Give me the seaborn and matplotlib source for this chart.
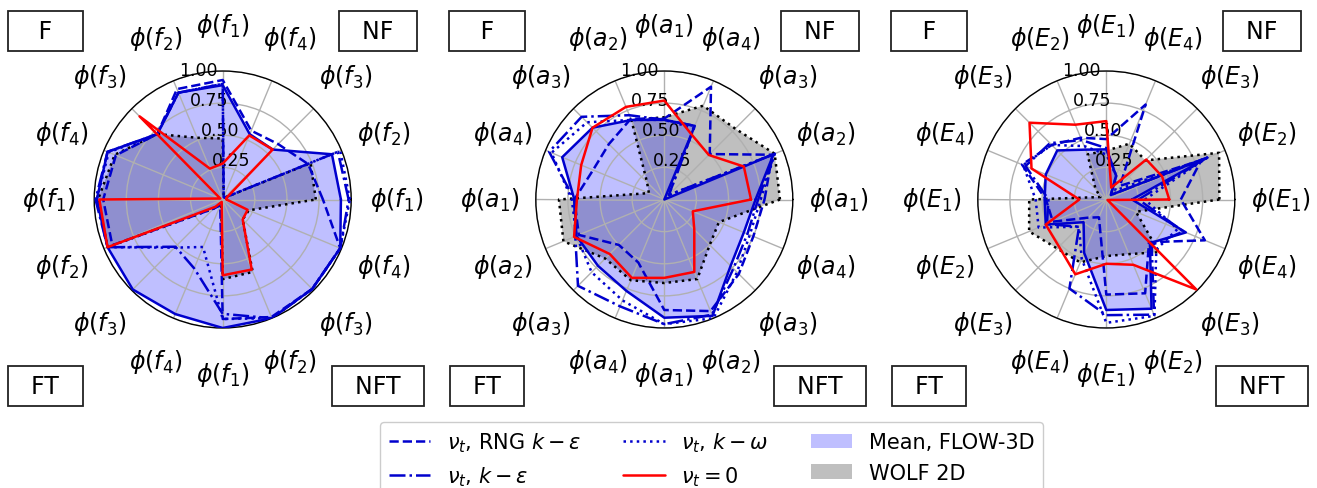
import numpy as np
import matplotlib
matplotlib.use("Agg")
import matplotlib.pyplot as plt
from matplotlib.lines import Line2D
from matplotlib.patches import Patch
import seaborn as sns

sns.set_theme(context="notebook", style="white")
plt.rcParams["font.family"] = ["DejaVu Sans"]
plt.rcParams["mathtext.fontset"] = "dejavusans"
for key in ("text.color", "axes.labelcolor", "xtick.color", "ytick.color"):
    plt.rcParams[key] = "black"

# ---------------------------------------------------------------------------
# Spoke labels (counter-clockwise from 0 deg, four per quadrant)
# ---------------------------------------------------------------------------
labels_f = [r"$\phi(f_1)$", r"$\phi(f_2)$", r"$\phi(f_3)$", r"$\phi(f_4)$"]
labels_a = [r"$\phi(a_1)$", r"$\phi(a_2)$", r"$\phi(a_3)$", r"$\phi(a_4)$"]
labels_E = [r"$\phi(E_1)$", r"$\phi(E_2)$", r"$\phi(E_3)$", r"$\phi(E_4)$"]
quadrant_names = ["F", "NF", "FT", "NFT"]
r_ticks = [0.25, 0.50, 0.75, 1.00]
r_tick_labels = ["0.25", "0.50", "0.75", "1.00"]

# ---------------------------------------------------------------------------
# Normalised scores, one value per spoke (0, 22.5, ..., 337.5 deg)
# ---------------------------------------------------------------------------
# panel 1 : f
f_rng    = [0.78, 0.72, 0.61, 0.58, 0.93, 0.93, 0.72, 0.90, 0.93, 0.93, 0.10, 0.05, 0.93, 0.99, 0.985, 0.99]
f_keps   = [0.98, 0.97, 0.02, 0.02, 0.90, 0.90, 0.72, 0.97, 0.99, 0.97, 0.52, 0.58, 0.89, 1.00, 0.985, 0.99]
f_komega = [0.99, 0.99, 0.02, 0.02, 0.90, 0.90, 0.72, 0.96, 0.98, 0.97, 0.53, 0.40, 0.93, 1.00, 0.985, 0.99]
f_nu0    = [0.03, 0.03, 0.55, 0.54, 0.28, 0.26, 0.915, 0.02, 0.96, 0.97, 0.08, 0.02, 0.59, 0.59, 0.22, 0.21]
f_mean   = [0.92, 0.92, 0.55, 0.55, 0.89, 0.90, 0.72, 0.97, 0.98, 0.97, 0.99, 0.965, 1.00, 1.00, 0.985, 0.99]
f_wolf   = [0.725, 0.74, 0.02, 0.02, 0.475, 0.52, 0.72, 0.91, 0.97, 0.97, 0.10, 0.03, 0.62, 0.61, 0.22, 0.22]

# panel 2 : a
a_rng    = [0.78, 0.91, 0.50, 0.95, 0.63, 0.68, 0.61, 0.60, 0.70, 0.72, 0.50, 0.53, 0.86, 0.94, 0.82, 0.75]
a_keps   = [0.73, 0.93, 0.05, 0.62, 0.62, 0.71, 0.91, 0.97, 0.70, 0.75, 0.95, 0.90, 0.97, 0.97, 0.76, 0.70]
a_komega = [0.75, 0.93, 0.05, 0.60, 0.62, 0.67, 0.85, 0.95, 0.72, 0.74, 0.80, 0.85, 0.97, 1.00, 0.80, 0.72]
a_nu0    = [0.675, 0.67, 0.49, 0.55, 0.77, 0.78, 0.79, 0.70, 0.68, 0.76, 0.60, 0.66, 0.61, 0.61, 0.33, 0.24]
a_mean   = [0.71, 0.92, 0.00, 0.62, 0.62, 0.67, 0.79, 0.86, 0.70, 0.74, 0.73, 0.77, 0.92, 0.98, 0.73, 0.67]
a_wolf   = [0.90, 0.93, 0.78, 0.79, 0.64, 0.67, 0.19, 0.13, 0.82, 0.85, 0.65, 0.68, 0.65, 0.67, 0.50, 0.46]

# panel 3 : E
E_rng    = [0.58, 0.80, 0.15, 0.80, 0.47, 0.52, 0.60, 0.71, 0.47, 0.45, 0.20, 0.15, 0.74, 0.79, 0.47, 0.83]
E_keps   = [0.25, 0.85, 0.05, 0.20, 0.40, 0.50, 0.62, 0.68, 0.45, 0.50, 0.30, 0.75, 0.90, 0.97, 0.50, 0.65]
E_komega = [0.30, 0.85, 0.10, 0.20, 0.35, 0.45, 0.60, 0.70, 0.55, 0.57, 0.30, 0.50, 0.96, 0.98, 0.55, 0.60]
E_nu0    = [0.49, 0.47, 0.44, 0.10, 0.61, 0.63, 0.845, 0.63, 0.21, 0.51, 0.52, 0.63, 0.50, 0.55, 0.99, 0.01]
E_mean   = [0.20, 0.85, 0.05, 0.20, 0.39, 0.42, 0.54, 0.51, 0.48, 0.51, 0.25, 0.45, 0.86, 0.92, 0.48, 0.67]
E_wolf   = [0.88, 0.95, 0.43, 0.47, 0.38, 0.38, 0.12, 0.05, 0.60, 0.65, 0.54, 0.53, 0.44, 0.46, 0.58, 0.25]

panels = [
    dict(labels=labels_f, rng=f_rng, keps=f_keps, komega=f_komega, nu0=f_nu0, mean=f_mean, wolf=f_wolf),
    dict(labels=labels_a, rng=a_rng, keps=a_keps, komega=a_komega, nu0=a_nu0, mean=a_mean, wolf=a_wolf),
    dict(labels=labels_E, rng=E_rng, keps=E_keps, komega=E_komega, nu0=E_nu0, mean=E_mean, wolf=E_wolf),
]

BLUE = "#0000cd"
RED = "#ff0000"
LW = 1.8

n_spokes = 16
theta = np.arange(n_spokes) * 2 * np.pi / n_spokes
theta_closed = np.append(theta, 2 * np.pi)


def closed(values):
    v = np.asarray(values, dtype=float)
    return np.append(v, v[0])


W_PX, H_PX = 1317, 489
fig = plt.figure(figsize=(W_PX / 100, H_PX / 100), dpi=100)
fig.patch.set_facecolor("white")

centres_x = [222.7, 664.3, 1106.3]
centre_y = H_PX - 200.5
R_PX = 128.5

for cx, p in zip(centres_x, panels):
    ax = fig.add_axes([(cx - R_PX) / W_PX, (centre_y - R_PX) / H_PX,
                       2 * R_PX / W_PX, 2 * R_PX / H_PX], projection="polar")
    ax.set_facecolor("white")
    ax.set_axisbelow("line")  # grid above the shaded areas, below the outlines

    # filled areas
    ax.fill(theta_closed, closed(p["wolf"]), color="gray", alpha=0.5, lw=0)
    ax.fill(theta_closed, closed(p["mean"]), color="blue", alpha=0.25, lw=0)

    # outlines
    sns.lineplot(x=theta_closed, y=closed(p["wolf"]), ax=ax, sort=False, estimator=None,
                 color="black", linestyle=":", lw=LW, zorder=2)
    sns.lineplot(x=theta_closed, y=closed(p["mean"]), ax=ax, sort=False, estimator=None,
                 color=BLUE, linestyle="-", lw=LW, zorder=3)
    sns.lineplot(x=theta_closed, y=closed(p["rng"]), ax=ax, sort=False, estimator=None,
                 color=BLUE, linestyle="--", lw=LW, zorder=3)
    sns.lineplot(x=theta_closed, y=closed(p["keps"]), ax=ax, sort=False, estimator=None,
                 color=BLUE, linestyle="-.", lw=LW, zorder=3)
    sns.lineplot(x=theta_closed, y=closed(p["komega"]), ax=ax, sort=False, estimator=None,
                 color=BLUE, linestyle=":", lw=LW, zorder=3)
    sns.lineplot(x=theta_closed, y=closed(p["nu0"]), ax=ax, sort=False, estimator=None,
                 color=RED, linestyle="-", lw=LW, zorder=4)

    ax.set_ylim(0, 1)
    ax.set_xticks(theta)
    ax.set_xticklabels(p["labels"] * 4, fontsize=17)
    ax.tick_params(axis="x", pad=20)
    ax.set_yticks(r_ticks)
    ax.set_yticklabels(r_tick_labels, fontsize=12.5)
    ax.set_rlabel_position(110)
    ax.grid(True, color="#b0b0b0", lw=1.0)
    ax.spines["polar"].set_color("black")
    ax.spines["polar"].set_linewidth(1.0)
    ax.set_xlabel("")
    ax.set_ylabel("")

    # quadrant tags
    box = dict(boxstyle="square,pad=0.35", fc="white", ec="#222222", lw=1.3)
    tag_pos = {"F": (-0.19, 1.155), "NF": (1.105, 1.155),
               "FT": (-0.19, -0.225), "NFT": (1.105, -0.225)}
    tag_text = {"F": "   F   ", "NF": "  NF  ", "FT": "  FT  ", "NFT": "  NFT  "}
    for name in quadrant_names:
        x, y = tag_pos[name]
        ax.text(x, y, tag_text[name], transform=ax.transAxes, ha="center", va="center",
                fontsize=17, bbox=box)

handles = [
    Line2D([], [], color=BLUE, ls="--", lw=LW),
    Line2D([], [], color=BLUE, ls="-.", lw=LW),
    Line2D([], [], color=BLUE, ls=":", lw=LW),
    Line2D([], [], color=RED, ls="-", lw=LW),
    Patch(facecolor="blue", alpha=0.25, lw=0),
    Patch(facecolor="gray", alpha=0.5, lw=0),
]
legend_labels = [r"$\nu_t$, RNG $k-\varepsilon$", r"$\nu_t$, $k-\varepsilon$",
                 r"$\nu_t$, $k-\omega$", r"$\nu_t=0$", "Mean, FLOW-3D", "WOLF 2D"]
fig.legend(handles, legend_labels, loc="upper center", ncol=3, fontsize=15,
           bbox_to_anchor=(711.5 / W_PX, 1 - 423 / H_PX), borderaxespad=0.0,
           frameon=True, edgecolor="0.8", fancybox=True, framealpha=1.0)

fig.savefig("out.png", dpi=100, facecolor="white")
